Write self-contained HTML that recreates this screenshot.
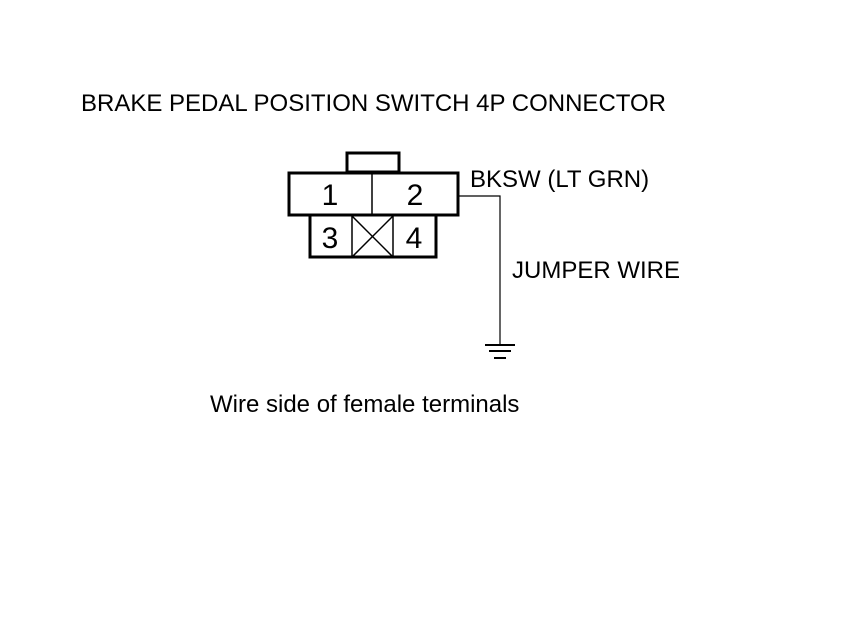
<!DOCTYPE html>
<html><head><style>
html,body{margin:0;padding:0;background:#fff;width:860px;height:630px;overflow:hidden}
</style></head><body>
<svg width="860" height="630" xmlns="http://www.w3.org/2000/svg" font-family="Liberation Sans, Arial, sans-serif">
<text x="81" y="111" font-size="24" fill="#000">BRAKE PEDAL POSITION SWITCH 4P CONNECTOR</text>
<g fill="none" stroke="#000" stroke-width="3">
<rect x="347" y="153" width="52" height="19"/>
<rect x="289" y="173" width="169" height="42" fill="#fff"/>
<rect x="310" y="215" width="126" height="42"/>
</g>
<g stroke="#000" stroke-width="1.5" fill="none">
<line x1="372" y1="173" x2="372" y2="215"/>
<line x1="352" y1="215" x2="352" y2="257"/>
<line x1="393" y1="215" x2="393" y2="257"/>
<line x1="352" y1="216" x2="393" y2="257"/>
<line x1="393" y1="216" x2="352" y2="257"/>
</g>
<g stroke="#000" stroke-width="1.2" fill="none">
<polyline points="459,196 500,196 500,345"/>
<line x1="485" y1="345" x2="515" y2="345" stroke-width="2"/>
<line x1="489" y1="351" x2="511" y2="351" stroke-width="2"/>
<line x1="494" y1="358" x2="506" y2="358" stroke-width="2"/>
</g>
<g font-size="30" fill="#000" text-anchor="middle">
<text x="330" y="205">1</text>
<text x="415" y="205">2</text>
<text x="330" y="248">3</text>
<text x="414" y="248">4</text>
</g>
<text x="470" y="187" font-size="24" fill="#000">BKSW (LT GRN)</text>
<text x="512" y="278" font-size="24" fill="#000">JUMPER WIRE</text>
<text x="210" y="412" font-size="24" fill="#000">Wire side of female terminals</text>
</svg>
</body></html>
